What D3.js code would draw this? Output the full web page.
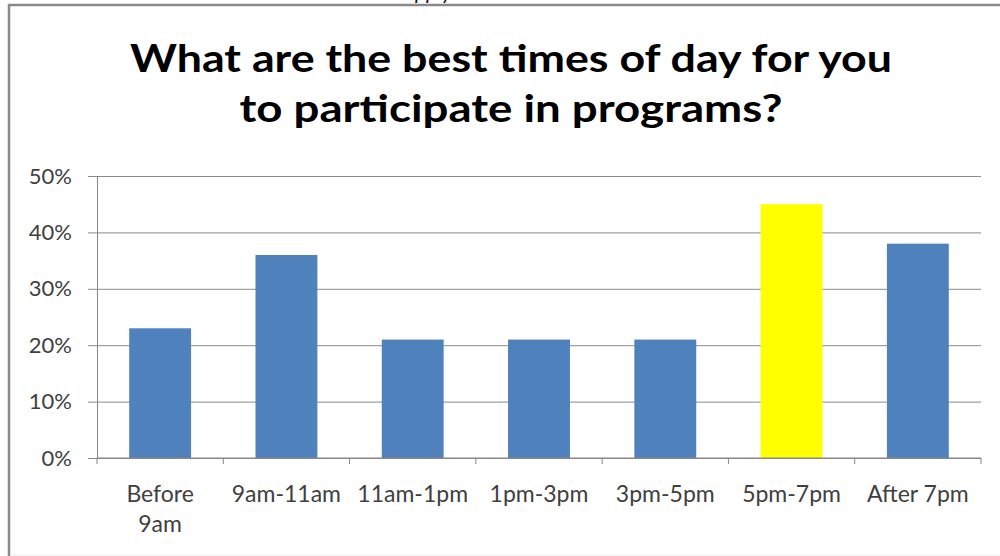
<!DOCTYPE html>
<html>
<head>
<meta charset="utf-8">
<script src="https://cdn.jsdelivr.net/npm/d3@7"></script>
<style>
  html, body { margin: 0; padding: 0; background: #fff; }
  svg { display: block; }
</style>
</head>
<body>
<svg id="chart" width="1000" height="556"></svg>
<script>
const titleLines = ["What are the best times of day for you", "to participate in programs?"];
const subtitle = "Check all that apply";
const categories = ["Before\n9am", "9am-11am", "11am-1pm", "1pm-3pm", "3pm-5pm", "5pm-7pm", "After 7pm"];
const values = [0.23, 0.36, 0.21, 0.21, 0.21, 0.45, 0.38];
const barColors = ["#4F81BD", "#4F81BD", "#4F81BD", "#4F81BD", "#4F81BD", "#FFFF00", "#4F81BD"];
const yTicks = [0, 0.1, 0.2, 0.3, 0.4, 0.5];

(function () {
const svg = d3.select("#chart");
const W = 1000, H = 556;
svg.append("rect").attr("width", W).attr("height", H).attr("fill", "#fff");

// cut-off subtitle at very top (only descenders visible, as in reference)
svg.append("text").attr("x", 452).attr("y", -1).attr("text-anchor", "end")
  .attr("font-family", "Lato, 'Open Sans', sans-serif").attr("font-style", "italic")
  .attr("font-size", 21).attr("fill", "#111").text(subtitle);

// frame (cropped slide border)
svg.append("line").attr("x1", 8).attr("x2", W).attr("y1", 5).attr("y2", 5)
  .attr("stroke", "#8a8a8a").attr("stroke-width", 2.5);
svg.append("line").attr("x1", 9).attr("x2", 9).attr("y1", 4).attr("y2", H)
  .attr("stroke", "#8a8a8a").attr("stroke-width", 2.5);
svg.append("line").attr("x1", 10).attr("x2", W).attr("y1", 555).attr("y2", 555)
  .attr("stroke", "#eeeeee").attr("stroke-width", 1);

// title
const titleY = [72, 122];
const titleW = [762, 543];
titleLines.forEach((t, i) => {
  svg.append("text").attr("x", 511).attr("y", titleY[i]).attr("text-anchor", "middle")
    .attr("font-family", "Lato, 'Open Sans', sans-serif").attr("font-weight", "bold")
    .attr("font-size", 38).attr("fill", "#000")
    .attr("textLength", titleW[i]).attr("lengthAdjust", "spacingAndGlyphs")
    .text(t);
});

const mLeft = 97, mRight = 981, mTop = 176, mBottom = 458;
const x = d3.scaleBand().domain(categories).range([mLeft, mRight]).padding(0);
const y = d3.scaleLinear().domain([0, 0.5]).range([mBottom, mTop]);

// gridlines + y labels
const gAxisY = svg.append("g").attr("transform", `translate(${mLeft},0)`)
  .call(d3.axisLeft(y).tickValues(yTicks).tickFormat(d3.format(".0%"))
    .tickSize(-(mRight - mLeft)).tickSizeOuter(0).tickPadding(16));
gAxisY.select(".domain").attr("stroke", "#868686");
gAxisY.selectAll(".tick line").attr("stroke", "#8a8a8a").attr("x1", -9);
gAxisY.selectAll(".tick text").attr("font-family", "Lato, 'Open Sans', sans-serif")
  .attr("font-size", 22).attr("fill", "#404040").attr("x", -25);

// bars
const barW = x.bandwidth() * 0.49;
svg.append("g").selectAll("rect").data(values).join("rect")
  .attr("x", (d, i) => x(categories[i]) + (x.bandwidth() - barW) / 2)
  .attr("width", barW)
  .attr("y", d => y(d))
  .attr("height", d => y(0) - y(d))
  .attr("fill", (d, i) => barColors[i]);

// x axis
const gAxisX = svg.append("g").attr("transform", `translate(0,${mBottom})`);
gAxisX.append("line").attr("x1", mLeft).attr("x2", mRight).attr("y1", 0).attr("y2", 0)
  .attr("stroke", "#868686");
const bounds = categories.map(c => x(c)).concat([mRight]);
gAxisX.selectAll("line.tk").data(bounds).join("line").attr("class", "tk")
  .attr("x1", d => d).attr("x2", d => d).attr("y1", 0).attr("y2", 6)
  .attr("stroke", "#868686");
const lbl = gAxisX.selectAll("text.lbl").data(categories).join("text").attr("class", "lbl")
  .attr("text-anchor", "middle")
  .attr("font-family", "Lato, 'Open Sans', sans-serif").attr("font-size", 23)
  .attr("fill", "#404040");
lbl.each(function(d) {
  const t = d3.select(this);
  d.split("\n").forEach((line, j) => {
    t.append("tspan").attr("x", x(d) + x.bandwidth() / 2).attr("y", 44 + j * 30).text(line);
  });
});
})();
</script>
</body>
</html>
